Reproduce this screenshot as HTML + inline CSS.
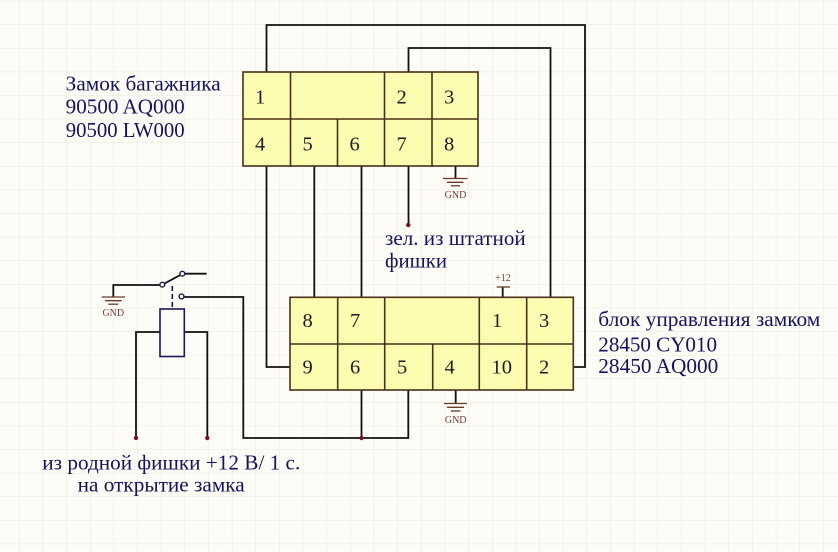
<!DOCTYPE html>
<html><head><meta charset="utf-8"><style>
html,body{margin:0;padding:0;background:#fdfcf7;}
svg{display:block;}
text{font-family:"Liberation Serif","Noto Serif CJK SC",serif;}
</style></head><body>
<svg width="838" height="552" viewBox="0 0 838 552" xmlns="http://www.w3.org/2000/svg">
<defs>
<pattern id="g" x="19" y="24.5" width="23.65" height="23.6" patternUnits="userSpaceOnUse">
<path d="M0 0V23.6M0 0H23.65" stroke="#e9e6dd" stroke-width="1" fill="none"/>
</pattern>
</defs>
<rect width="838" height="552" fill="#fdfcf7"/>
<rect width="838" height="552" fill="url(#g)"/>

<!-- wires -->
<g stroke="#111" stroke-width="1.8" fill="none">
<polyline points="266.5,72 266.5,25 585,25 585,367 573,367"/>
<polyline points="408.5,72 408.5,48 550.5,48 550.5,297"/>
<polyline points="266.5,166 266.5,367 290,367"/>
<line x1="314.3" y1="166" x2="314.3" y2="297"/>
<line x1="361.5" y1="166" x2="361.5" y2="297"/>
<line x1="408.5" y1="166" x2="408.5" y2="225"/>
<line x1="455.5" y1="166" x2="455.5" y2="178"/>
<line x1="502.7" y1="297" x2="502.7" y2="287"/>
<line x1="455.7" y1="390" x2="455.7" y2="403"/>
<polyline points="361.5,390 361.5,438"/>
<polyline points="408.3,390 408.3,438 243.3,438 243.3,297 184,297"/>
<!-- relay -->
<polyline points="113.3,297 113.3,285 160,285"/>
<line x1="164.5" y1="283.5" x2="180" y2="275.2"/>
<line x1="184.5" y1="273.7" x2="206.7" y2="273.7"/>
<polyline points="160,332 136,332 136,438"/>
<polyline points="184.3,332 207.3,332 207.3,438"/>
</g>
<line x1="172.3" y1="286" x2="172.3" y2="308" stroke="#1a1a3a" stroke-width="1.6" stroke-dasharray="5,3"/>
<g stroke="#1a1a4a" stroke-width="1.4" fill="#fdfcf7">
<circle cx="162.3" cy="284.7" r="2.4"/>
<circle cx="182.3" cy="273.7" r="2.4"/>
<circle cx="181.5" cy="296.5" r="2.4"/>
</g>
<rect x="160" y="309" width="24.3" height="47.5" fill="#fdfcf7" stroke="#1a1a5a" stroke-width="1.6"/>

<!-- ground symbols -->
<g stroke="#6a3a2a" stroke-width="1.3">
<line x1="443" y1="178.5" x2="467.5" y2="178.5"/>
<line x1="447" y1="182.3" x2="463.5" y2="182.3"/>
<line x1="450.8" y1="185.8" x2="460" y2="185.8"/>
<line x1="444" y1="403.5" x2="467" y2="403.5"/>
<line x1="447" y1="407.3" x2="464" y2="407.3"/>
<line x1="450.8" y1="411" x2="460.5" y2="411"/>
<line x1="101.7" y1="297" x2="125" y2="297"/>
<line x1="105" y1="300.7" x2="121.7" y2="300.7"/>
<line x1="108.3" y1="304.2" x2="118.3" y2="304.2"/>
<line x1="496.7" y1="287" x2="510" y2="287"/>
</g>
<g fill="#7a3a3a" font-size="10" text-anchor="middle">
<text x="455.5" y="198">GND</text>
<text x="455.7" y="423">GND</text>
<text x="113.3" y="316">GND</text>
<text x="503" y="281">+12</text>
</g>

<!-- dots -->
<g fill="#7a1020">
<circle cx="408.3" cy="225" r="2.2"/>
<circle cx="361.5" cy="438" r="2.2"/>
<circle cx="136" cy="438" r="2.2"/>
<circle cx="207.3" cy="438" r="2.2"/>
</g>

<!-- top connector -->
<rect x="243" y="72" width="235" height="94" fill="#fdfdb2" stroke="#4a3018" stroke-width="1.6"/>
<g stroke="#4a3018" stroke-width="1.6">
<line x1="243" y1="119" x2="478" y2="119"/>
<line x1="290.5" y1="72" x2="290.5" y2="167"/>
<line x1="384.5" y1="72" x2="384.5" y2="167"/>
<line x1="432" y1="72" x2="432" y2="167"/>
<line x1="337.5" y1="119" x2="337.5" y2="167"/>
</g>
<g fill="#1c1c1c" font-size="20.5">
<text x="255" y="103.5">1</text>
<text x="396.5" y="103.5">2</text>
<text x="444" y="103.5">3</text>
<text x="255" y="150.5">4</text>
<text x="302.5" y="150.5">5</text>
<text x="349.5" y="150.5">6</text>
<text x="396.5" y="150.5">7</text>
<text x="444" y="150.5">8</text>
</g>

<!-- bottom connector -->
<rect x="290" y="297.3" width="283.3" height="92.7" fill="#fdfdb2" stroke="#4a3018" stroke-width="1.6"/>
<g stroke="#4a3018" stroke-width="1.6">
<line x1="290" y1="344" x2="573.3" y2="344"/>
<line x1="337.7" y1="297.3" x2="337.7" y2="390"/>
<line x1="384.7" y1="297.3" x2="384.7" y2="390"/>
<line x1="432.7" y1="344" x2="432.7" y2="390"/>
<line x1="479.3" y1="297.3" x2="479.3" y2="390"/>
<line x1="526.7" y1="297.3" x2="526.7" y2="390"/>
</g>
<g fill="#1c1c1c" font-size="20.5">
<text x="302.5" y="327">8</text>
<text x="350" y="327">7</text>
<text x="492" y="327">1</text>
<text x="539" y="327">3</text>
<text x="302.5" y="373.5">9</text>
<text x="350" y="373.5">6</text>
<text x="397" y="373.5">5</text>
<text x="444.5" y="373.5">4</text>
<text x="491.5" y="373.5">10</text>
<text x="539" y="373.5">2</text>
</g>

<!-- labels -->
<g fill="#14145e" font-size="21">
<text x="65.7" y="90.7" textLength="155" lengthAdjust="spacingAndGlyphs">Замок багажника</text>
<text x="65.7" y="113.3" textLength="119" lengthAdjust="spacingAndGlyphs">90500 AQ000</text>
<text x="65.7" y="137.2" textLength="119" lengthAdjust="spacingAndGlyphs">90500 LW000</text>
<text x="385" y="245" textLength="140.7" lengthAdjust="spacingAndGlyphs">зел. из штатной</text>
<text x="385" y="267.3" textLength="62" lengthAdjust="spacingAndGlyphs">фишки</text>
<text x="598.3" y="326" textLength="222" lengthAdjust="spacingAndGlyphs">блок управления замком</text>
<text x="598.3" y="351.7" textLength="118.7" lengthAdjust="spacingAndGlyphs">28450 CY010</text>
<text x="598.3" y="373" textLength="120" lengthAdjust="spacingAndGlyphs">28450 AQ000</text>
<text x="42.3" y="469.3" textLength="258" lengthAdjust="spacingAndGlyphs">из родной фишки +12 В/ 1 с.</text>
<text x="77.7" y="491.7" textLength="167" lengthAdjust="spacingAndGlyphs">на открытие замка</text>
</g>
</svg>
</body></html>
